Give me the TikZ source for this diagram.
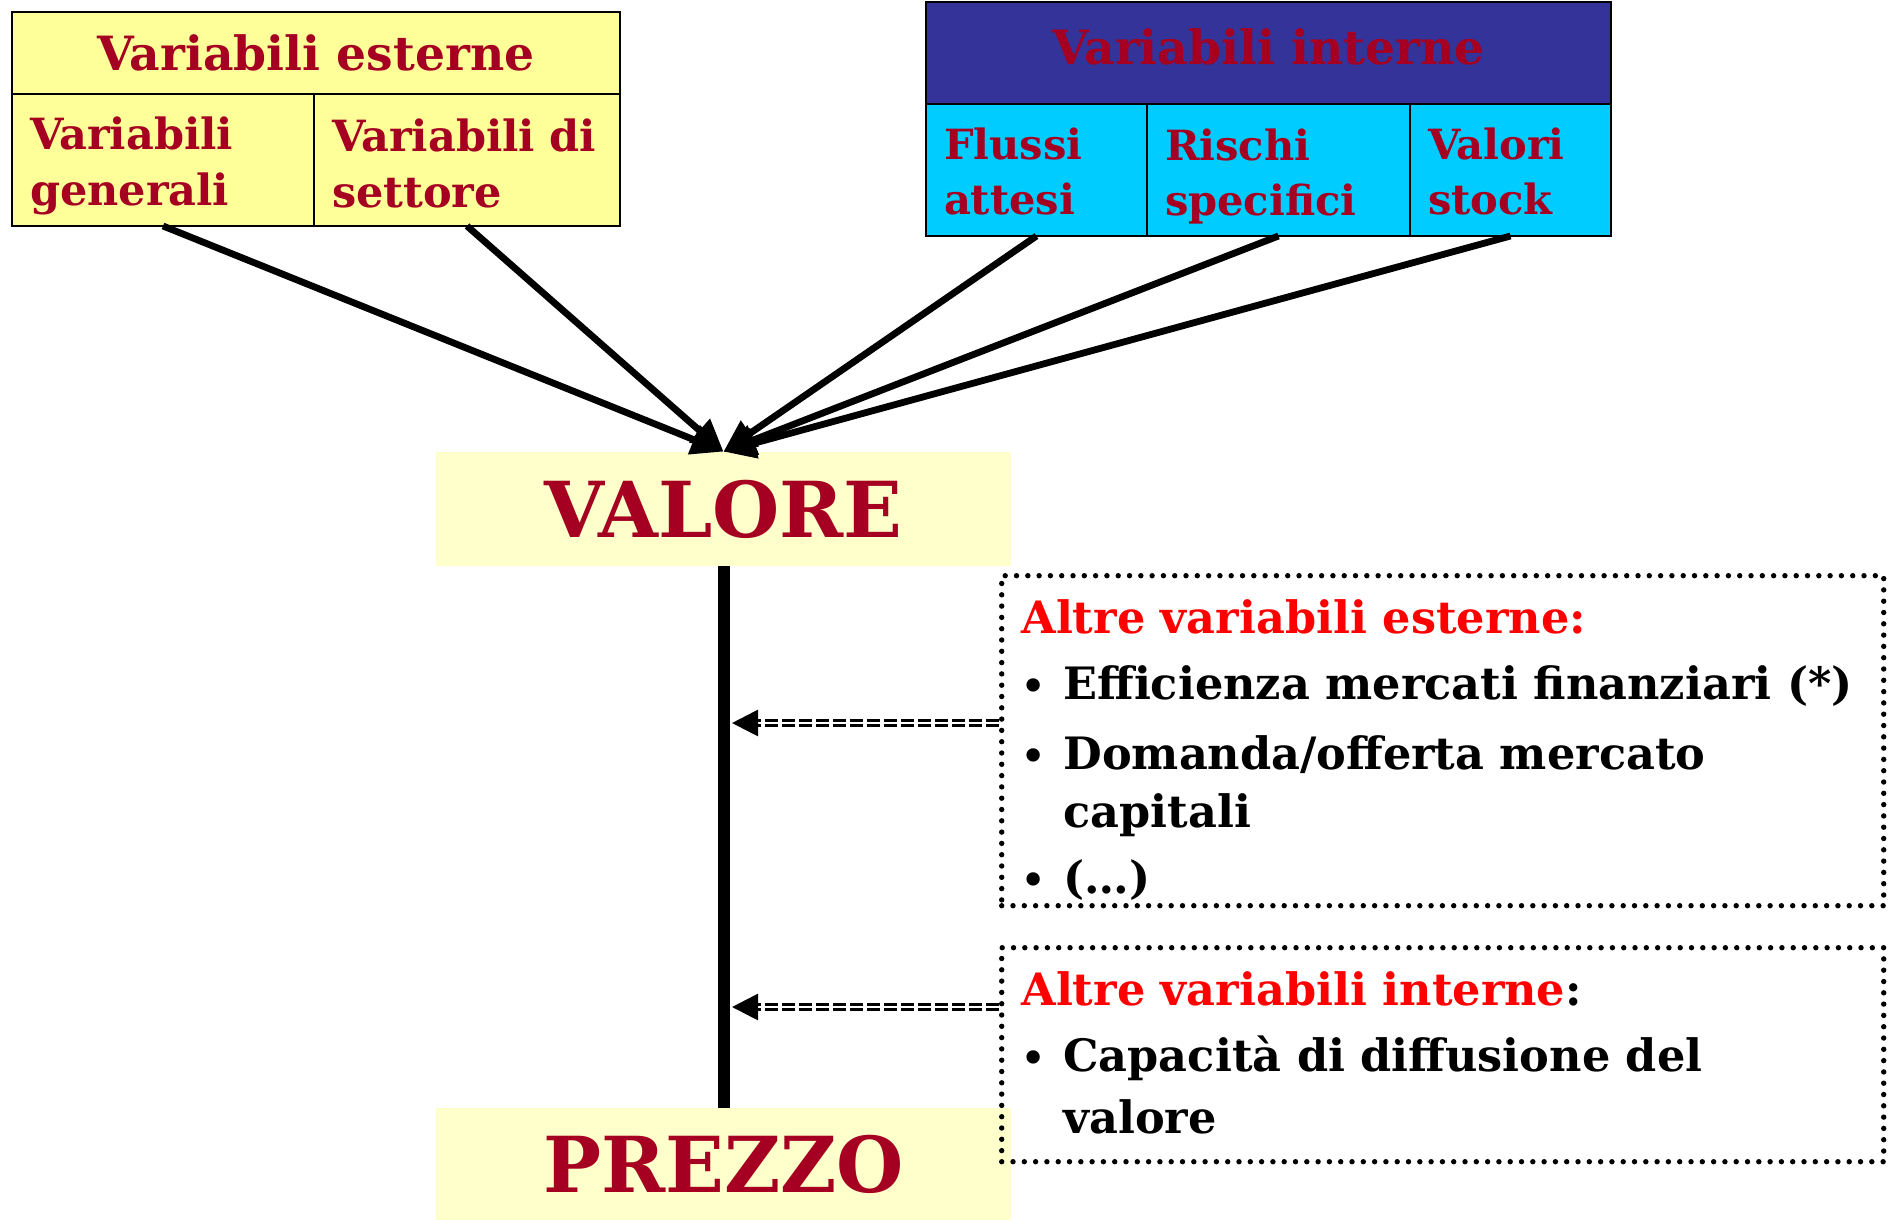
\documentclass[tikz,border=0pt]{standalone}
\usepackage{fontspec}
\setmainfont{DejaVu Serif}
\usetikzlibrary{positioning,arrows.meta}
\definecolor{vred}{HTML}{A50021}
\definecolor{extyellow}{HTML}{FFFF99}
\definecolor{intblue}{HTML}{333399}
\definecolor{intcyan}{HTML}{00CCFF}
\definecolor{paleyellow}{HTML}{FFFFCC}
\newcommand{\vitem}[1]{\makebox[21pt][l]{\scalebox{0.85}{\textbullet}}#1}
\newcommand{\topgap}[1]{\rule{0pt}{#1}}
\begin{document}
\begin{tikzpicture}[x=0.5pt, y=-0.5pt,
    cell/.style = {draw, line width=1.2pt, outer sep=0pt, text=vred},
    head/.style = {cell, anchor=north west, font=\bfseries\fontsize{23.6}{27}\selectfont},
    sub/.style = {cell, align=left, minimum height=66pt, inner xsep=9pt, font=\bfseries\fontsize{21.5}{28}\selectfont},
    big/.style = {fill=paleyellow, minimum width=287.5pt, text=vred, font=\bfseries\fontsize{38.6}{44}\selectfont},
    arr/.style = {line width=3.4pt, -{Triangle[length=16pt,width=15pt]}},
    dotbox/.style = {draw, line width=2.7pt, line cap=round, dash pattern=on 0pt off 5.65pt, minimum width=441pt, anchor=north west},
    dblarrow/.style = {double, double distance=1.4pt, line width=1.4pt, dash pattern=on 6.5pt off 2pt, -{Triangle[length=13pt,width=13pt]}},
    list/.style = {anchor=north west, align=left, inner sep=0pt, font=\bfseries\fontsize{22.3}{29}\selectfont}]
    \useasboundingbox (0,0) rectangle (1888,1220);

    \node[head, fill=extyellow, minimum width=304pt, minimum height=41pt] (esterne) at (12,12) {Variabili esterne};
    \node[sub, fill=extyellow, text width=133pt, anchor=north west] (gen) at (esterne.south west) {\topgap{22pt}Variabili\\generali};
    \node[sub, fill=extyellow, text width=135pt, right=0pt of gen] (sett) {\topgap{20pt}Variabili di\\settore};

    \node[head, fill=intblue, minimum width=342.5pt, minimum height=51pt] (interne) at (926,2) {\raisebox{6.5pt}{Variabili interne}};
    \node[sub, fill=intcyan, text width=92.5pt, anchor=north west, font=\bfseries\fontsize{20.8}{27.5}\selectfont] (fluss) at (interne.south west) {\topgap{17pt}Flussi\\attesi};
    \node[sub, fill=intcyan, text width=113.5pt, right=0pt of fluss, font=\bfseries\fontsize{20.8}{27.5}\selectfont] (risch) {\topgap{22pt}Rischi\\specifici};
    \node[sub, fill=intcyan, text width=82.5pt, right=0pt of risch, font=\bfseries\fontsize{20.8}{27.5}\selectfont] (stock) {\topgap{17pt}Valori\\stock};

    \node[big, minimum height=57pt] (valore) at (723.5,509) {VALORE};
    \node[big, minimum height=56pt] (prezzo) at (723.5,1164) {PREZZO};

    \foreach \src in {gen, sett, fluss, risch, stock}
        \draw[arr] (\src.south) -- (valore.north);
    \draw[line width=6pt] (valore.south) -- (prezzo.north);

    \node[dotbox, minimum height=165pt] (altext) at (999,573) {};
    \node[dotbox, minimum height=107pt] (altint) at (999,945) {};

    \node[list] (extlist) at (1021,599) {{\color{red}Altre variabili esterne:}\\[4pt]
        \vitem{Efficienza mercati finanziari (*)}\\[6pt]
        \vitem{Domanda/offerta mercato}\\
        \hspace*{21pt}capitali\\[4pt]
        \vitem{(…)}};
    \node[list] (intlist) at (1021,971) {{\color{red}Altre variabili interne}:\\[4pt]
        \vitem{Capacità di diffusione del}\\[2pt]
        \hspace*{21pt}valore};

    \coordinate (hitext) at (732,723);
    \coordinate (hitint) at (732,1007);
    \draw[dblarrow] (altext.west |- hitext) -- (hitext);
    \draw[dblarrow] (altint.west |- hitint) -- (hitint);
\end{tikzpicture}
\end{document}
